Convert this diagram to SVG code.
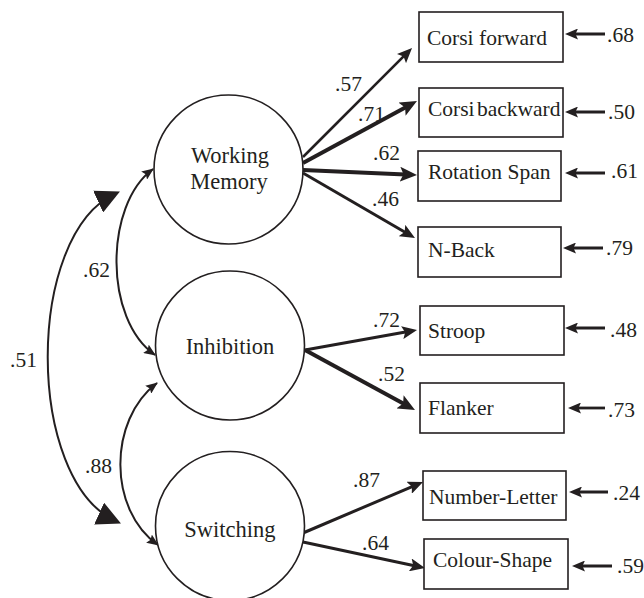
<svg xmlns="http://www.w3.org/2000/svg" width="644" height="598" viewBox="0 0 644 598" font-family="Liberation Serif, Times New Roman, serif">
<style>
text{font-family:'Liberation Serif','Times New Roman',Times,serif;fill:#231f20}
.lbl{font-size:21.5px}
.lat{font-size:22.5px;text-anchor:middle}
.box{fill:#fff;stroke:#231f20;stroke-width:1.6}
.circ{fill:#fff;stroke:#231f20;stroke-width:1.6}
.ld{fill:none;stroke:#231f20}
.err{fill:none;stroke:#231f20;stroke-width:2.8}
.cov{fill:none;stroke:#231f20;stroke-width:2}
</style>
<defs>
<marker id="ah" markerUnits="userSpaceOnUse" markerWidth="15" markerHeight="13" refX="9" refY="6.5" orient="auto"><path d="M0,0 L15,6.5 L0,13 L3,6.5 z" fill="#231f20"/></marker>
<marker id="ahT" markerUnits="userSpaceOnUse" markerWidth="17" markerHeight="15" refX="11" refY="7.5" orient="auto"><path d="M0,0 L17,7.5 L0,15 L3.5,7.5 z" fill="#231f20"/></marker>
<marker id="ahE" markerUnits="userSpaceOnUse" markerWidth="13" markerHeight="11" refX="7" refY="5.5" orient="auto"><path d="M0,0 L13,5.5 L0,11 L2.5,5.5 z" fill="#231f20"/></marker>
<marker id="ahC" markerUnits="userSpaceOnUse" markerWidth="12" markerHeight="10" refX="11" refY="5" orient="auto-start-reverse"><path d="M0,0 L12,5 L0,10 L2,5 z" fill="#231f20"/></marker>
<marker id="ahB" markerUnits="userSpaceOnUse" markerWidth="24" markerHeight="24" refX="19" refY="12" orient="auto-start-reverse"><path d="M0,0 L24,12 L0,24 z" fill="#231f20"/></marker>
</defs>

<g id="connectors">
<path class="ld" stroke-width="2.6" d="M303,157 L407.8,52.2" marker-end="url(#ah)"/>
<path class="ld" stroke-width="4" d="M303,163 L411.7,103.9" marker-end="url(#ahT)"/>
<path class="ld" stroke-width="4" d="M303,170 L411,174.7" marker-end="url(#ahT)"/>
<path class="ld" stroke-width="3" d="M303,173 L409.8,235" marker-end="url(#ah)"/>
<path class="ld" stroke-width="3" d="M305,350 L411.1,331.1" marker-end="url(#ah)"/>
<path class="ld" stroke-width="4" d="M305,350 L409.7,407.1" marker-end="url(#ahT)"/>
<path class="ld" stroke-width="3" d="M303,533 L417.5,484.3" marker-end="url(#ah)"/>
<path class="ld" stroke-width="3" d="M303,542 L419.1,566.7" marker-end="url(#ah)"/>

<path class="err" d="M605,34 L571,34" marker-end="url(#ahE)"/>
<path class="err" d="M605,112 L571,112" marker-end="url(#ahE)"/>
<path class="err" d="M605,173 L571,173" marker-end="url(#ahE)"/>
<path class="err" d="M603,248 L569,248" marker-end="url(#ahE)"/>
<path class="err" d="M605,328 L571,328" marker-end="url(#ahE)"/>
<path class="err" d="M605,408 L574,408" marker-end="url(#ahE)"/>
<path class="err" d="M608,492 L575,492" marker-end="url(#ahE)"/>
<path class="err" d="M612,566 L578,566" marker-end="url(#ahE)"/>

<path class="cov" d="M153,169 C104,205 104,320 155,355" marker-start="url(#ahC)" marker-end="url(#ahC)"/>
<path class="cov" d="M157,383 C108,420 108,510 158,545" marker-start="url(#ahC)" marker-end="url(#ahC)"/>
<path class="cov" stroke-width="5" d="M115.4,193.7 C25,235 25,480 116.4,521.4" marker-start="url(#ahB)" marker-end="url(#ahB)"/>

<text class="lbl" x="335" y="91">.57</text>
<text class="lbl" x="358" y="121">.71</text>
<text class="lbl" x="373" y="160">.62</text>
<text class="lbl" x="372" y="206">.46</text>
<text class="lbl" x="373" y="327">.72</text>
<text class="lbl" x="378" y="381">.52</text>
<text class="lbl" x="353" y="487">.87</text>
<text class="lbl" x="362" y="550">.64</text>
<text class="lbl" x="607" y="42">.68</text>
<text class="lbl" x="608" y="119">.50</text>
<text class="lbl" x="611" y="178">.61</text>
<text class="lbl" x="606" y="255">.79</text>
<text class="lbl" x="610" y="337">.48</text>
<text class="lbl" x="608" y="417">.73</text>
<text class="lbl" x="613" y="500">.24</text>
<text class="lbl" x="617" y="573">.59</text>
<text class="lbl" x="83" y="277">.62</text>
<text class="lbl" x="10" y="367">.51</text>
<text class="lbl" x="85" y="473">.88</text>
</g>

<g id="wm"><circle class="circ" cx="228.5" cy="169.5" r="74.5"/><text class="lat" x="230" y="163">Working</text><text class="lat" x="229" y="189">Memory</text></g>
<g id="inh"><circle class="circ" cx="230" cy="345.5" r="74.5"/><text class="lat" x="230" y="354">Inhibition</text></g>
<g id="sw"><circle class="circ" cx="230" cy="526" r="74.5"/><text class="lat" x="230" y="537">Switching</text></g>

<g id="cf"><rect class="box" x="419" y="12" width="144" height="50"/><text class="lbl" x="427" y="45">Corsi forward</text></g>
<g id="cb"><rect class="box" x="419" y="88" width="144" height="49"/><text class="lbl" x="428" y="116" word-spacing="-3">Corsi backward</text></g>
<g id="rs"><rect class="box" x="418" y="151" width="143" height="50"/><text class="lbl" x="428" y="179">Rotation Span</text></g>
<g id="nb"><rect class="box" x="418" y="227" width="143" height="50"/><text class="lbl" x="428" y="257">N-Back</text></g>
<g id="st"><rect class="box" x="420" y="306" width="144" height="49"/><text class="lbl" x="428" y="338">Stroop</text></g>
<g id="fl"><rect class="box" x="420" y="383" width="144" height="50"/><text class="lbl" x="428" y="415">Flanker</text></g>
<g id="nl"><rect class="box" x="423" y="471" width="143" height="49"/><text class="lbl" x="429" y="504">Number-Letter</text></g>
<g id="cs"><rect class="box" x="424" y="539" width="144" height="50"/><text class="lbl" x="433" y="567">Colour-Shape</text></g>
</svg>
